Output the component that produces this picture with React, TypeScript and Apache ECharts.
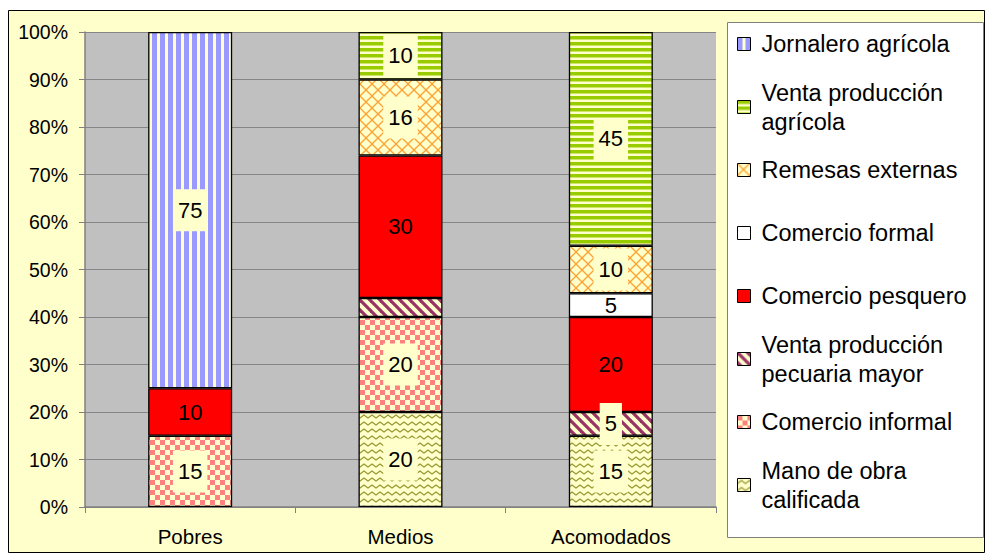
import React, { useEffect, useRef } from "react";
import * as echarts from "echarts";

const categories = ["Pobres", "Medios", "Acomodados"];

// stacked bottom -> top
const manoDeObra = [0, 20, 15];
const comercioInformal = [15, 20, 0];
const pecuariaMayor = [0, 4, 5];
const comercioPesquero = [10, 30, 20];
const comercioFormal = [0, 0, 5];
const remesasExternas = [0, 16, 10];
const ventaAgricola = [0, 10, 45];
const jornalero = [75, 0, 0];

const yTicks = [0, 10, 20, 30, 40, 50, 60, 70, 80, 90, 100];

const seriesNames = [
  "Mano de obra\ncalificada",
  "Comercio informal",
  "Venta producción\npecuaria mayor",
  "Comercio pesquero",
  "Comercio formal",
  "Remesas externas",
  "Venta producción\nagrícola",
  "Jornalero agrícola",
];
const seriesValues = [
  manoDeObra,
  comercioInformal,
  pecuariaMayor,
  comercioPesquero,
  comercioFormal,
  remesasExternas,
  ventaAgricola,
  jornalero,
];
// label removed in the original for this segment
const hiddenLabels: [string, string][] = [["Venta producción\npecuaria mayor", "Medios"]];

const FONT = '"Liberation Sans", Arial, Helvetica, sans-serif';
const YEL = "#FFFFCC";

function tile(w: number, h: number, draw: (c: CanvasRenderingContext2D) => void) {
  const cv = document.createElement("canvas");
  cv.width = w;
  cv.height = h;
  const c = cv.getContext("2d")!;
  c.fillStyle = YEL;
  c.fillRect(0, 0, w, h);
  draw(c);
  return { image: cv, repeat: "repeat" } as any;
}

function makeFills() {
  const zigzag = tile(8, 7, (c) => {
    c.strokeStyle = "#999933";
    c.lineWidth = 1.4;
    c.beginPath();
    c.moveTo(-1, 4.5);
    c.lineTo(0, 5);
    c.lineTo(4, 2);
    c.lineTo(8, 5);
    c.lineTo(9, 4.5);
    c.stroke();
  });
  const checker = tile(10, 10, (c) => {
    c.fillStyle = "#FF8080";
    c.fillRect(0, 0, 5, 5);
    c.fillRect(5, 5, 5, 5);
  });
  const diag = tile(10, 10, (c) => {
    c.strokeStyle = "#993366";
    c.lineWidth = 3.2;
    for (const o of [-10, 0, 10]) {
      c.beginPath();
      c.moveTo(o - 1, -1);
      c.lineTo(o + 11, 11);
      c.stroke();
    }
  });
  const lattice = tile(12, 12, (c) => {
    c.strokeStyle = "#FFA030";
    c.lineWidth = 1.3;
    c.beginPath();
    c.moveTo(-1, -1);
    c.lineTo(13, 13);
    c.moveTo(13, -1);
    c.lineTo(-1, 13);
    c.stroke();
  });
  const hstripes = tile(6, 6, (c) => {
    c.fillStyle = "#99CC00";
    c.fillRect(0, 0, 6, 3.5);
  });
  const vstripes = tile(8, 8, (c) => {
    c.fillStyle = "#9999FF";
    c.fillRect(0, 0, 5, 8);
  });
  return [zigzag, checker, diag, "#FF0000", "#FFFFFF", lattice, hstripes, vstripes];
}

// which series show the yellow label box (patterned fills)
const labelBoxed = [true, true, true, false, false, true, true, true];

// legend layout (first-line centre y), top -> bottom in legend order
const legendFirstLineY = [44, 107, 170, 233, 296, 359, 422, 485];

export default function App() {
  const ref = useRef<HTMLDivElement>(null);
  useEffect(() => {
    if (!ref.current) return;
    const chart = echarts.init(ref.current, undefined, { renderer: "svg" });
    const fills = makeFills();

    const series = seriesNames.map((name, si) => ({
      name,
      type: "bar",
      stack: "total",
      barWidth: 84,
      itemStyle: { color: fills[si], borderColor: "#000", borderWidth: 1.3 },
      label: {
        show: true,
        position: "inside",
        color: "#000",
        fontFamily: FONT,
        fontSize: 22,
        backgroundColor: labelBoxed[si] ? YEL : "transparent",
        padding: labelBoxed[si] ? [10, 5] : 0,
      },
      data: seriesValues[si].map((v, ci) => {
        if (!v) return null;
        const hide = hiddenLabels.some(([s, c]) => s === name && c === categories[ci]);
        return hide ? { value: v, label: { show: false } } : v;
      }),
    }));

    const legendOrder = seriesNames.slice().reverse();
    const legends = legendOrder.map((name, i) => {
      const twoLine = name.includes("\n");
      const c = legendFirstLineY[i];
      return {
        data: [name],
        left: 737,
        top: twoLine ? c - 43.5 : c - 14.5,
        padding: 0,
        itemGap: 0,
        itemWidth: 13,
        itemHeight: 13,
        icon: "rect",
        selectedMode: false,
        itemStyle: { borderColor: "#000", borderWidth: 1 },
        textStyle: {
          fontFamily: FONT,
          fontSize: 23.5,
          color: "#000",
          lineHeight: 29,
          padding: twoLine ? [29, 0, 0, 6] : [0, 0, 0, 6],
        },
      };
    });

    chart.setOption({
      animation: false,
      backgroundColor: "#FFFFFF",
      graphic: [
        {
          type: "rect",
          z: -100,
          shape: { x: 8.5, y: 10.5, width: 976, height: 542 },
          style: { fill: YEL, stroke: "#000", lineWidth: 1 },
        },
        {
          type: "rect",
          z: -90,
          shape: { x: 727.5, y: 22.5, width: 256, height: 515 },
          style: { fill: "#FFFFFF", stroke: "#808080", lineWidth: 1 },
        },
      ],
      grid: {
        left: 85,
        right: 270,
        top: 32,
        bottom: 47,
        show: true,
        backgroundColor: "#C0C0C0",
        borderWidth: 0,
      },
      legend: legends,
      xAxis: {
        type: "category",
        data: categories,
        axisLine: { show: true, lineStyle: { color: "#808080", width: 1.5 } },
        axisTick: { show: true, length: 6, lineStyle: { color: "#808080" } },
        axisLabel: { color: "#000", fontFamily: FONT, fontSize: 20.5, margin: 19 },
      },
      yAxis: {
        type: "value",
        min: yTicks[0],
        max: yTicks[yTicks.length - 1],
        interval: yTicks[1] - yTicks[0],
        axisLine: { show: true, lineStyle: { color: "#808080", width: 1.5 } },
        axisTick: { show: true, length: 6, lineStyle: { color: "#808080" } },
        splitLine: { show: true, lineStyle: { color: "#868686", width: 1 } },
        axisLabel: {
          color: "#000",
          fontFamily: FONT,
          fontSize: 19.5,
          margin: 17,
          formatter: "{value}%",
        },
      },
      series,
    });
    return () => chart.dispose();
  }, []);
  return (
    <div
      ref={ref}
      style={{ position: "absolute", left: 0, top: 0, width: 986, height: 554 }}
    />
  );
}
